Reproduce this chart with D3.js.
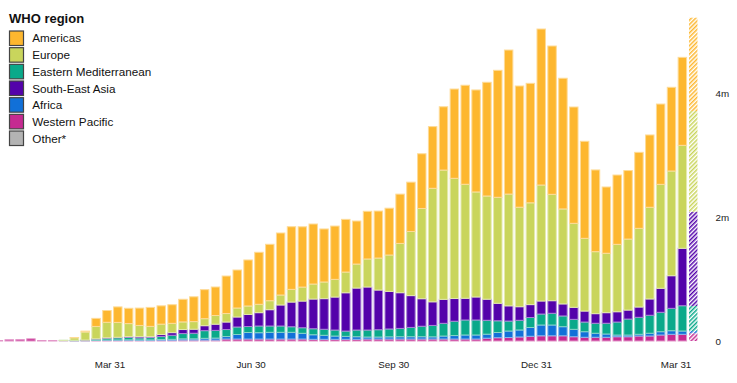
<!DOCTYPE html>
<html><head><meta charset="utf-8">
<script src="https://cdn.jsdelivr.net/npm/d3@7"></script>
<style>body{margin:0;background:#fff;} svg{display:block;font-family:Arial,"Liberation Sans",sans-serif;}</style>
</head><body><svg id="c" width="737" height="383"></svg>
<script>
// Week start dates (one bar per week)
const weeks = [
"2020-01-16","2020-01-23","2020-01-30","2020-02-06","2020-02-13","2020-02-20","2020-02-27",
"2020-03-05","2020-03-12","2020-03-19","2020-03-26","2020-04-02","2020-04-09","2020-04-16","2020-04-23","2020-04-30",
"2020-05-07","2020-05-14","2020-05-21","2020-05-28","2020-06-04","2020-06-11","2020-06-18","2020-06-25",
"2020-07-02","2020-07-09","2020-07-16","2020-07-23","2020-07-30","2020-08-06","2020-08-13","2020-08-20","2020-08-27",
"2020-09-03","2020-09-10","2020-09-17","2020-09-24","2020-10-01","2020-10-08","2020-10-15","2020-10-22","2020-10-29",
"2020-11-05","2020-11-12","2020-11-19","2020-11-26","2020-12-03","2020-12-10","2020-12-17","2020-12-24","2020-12-31",
"2021-01-07","2021-01-14","2021-01-21","2021-01-28","2021-02-04","2021-02-11","2021-02-18","2021-02-25",
"2021-03-04","2021-03-11","2021-03-18","2021-03-25","2021-04-01","2021-04-08"];
const incompleteWeek = "2021-04-08";

const regions = ["Americas","Europe","Eastern Mediterranean","South-East Asia","Africa","Western Pacific","Other*"];
const colors  = ["#fdb72f","#c9d55c","#0aa98a","#5302aa","#1170d8","#c52a91","#b3b3b3"];
const stackOrder = ["Other*","Western Pacific","Africa","Eastern Mediterranean","South-East Asia","Europe","Americas"];

// weekly new cases, thousands
const americas = [0, 0,0,0,0,0,0,4,15,130,190, 250,247,280,306,295,300,365,400,468,460, 605,613,742,839,910,1000,1010,972,968,855, 860,850,694,769,758,755,795,795,882,995, 1021,1440,1597,1645,1834,2048,2323,1955,1927,2516, 2392,2108,1876,1565,1318,1069,1118,1105,1226,1166, 1295,1350,1419,1505];
const europe = [0, 0,0,0,0,0,2,40,130,200,250, 240,210,180,165,168,150,123,123,113,140, 137,145,137,135,145,161,205,226,242,269, 285,334,387,452,516,587,795,1035,1456,1831, 2085,1939,1839,1694,1665,1710,1803,1605,1642,1871, 1716,1532,1355,1173,1000,958,1087,1145,1269,1479, 1677,1689,1661,1624];
const easternMediterranean = [0, 0,0,0,0,0,3,6,8,20,30, 35,40,33,37,48,65,85,90,124,124, 113,121,97,108,102,102,90,90,97,97, 97,85,108,113,118,127,134,150,169,184, 205,231,242,242,224,189,161,156,161,177, 189,173,161,156,161,173,210,258,274,290, 313,361,408,403];
const southEastAsia = [0, 0,0,0,0,0,0,0,1,3,6, 8,12,20,16,32,43,65,65,80,100, 121,161,194,215,263,339,398,430,479,494, 532,618,677,694,640,606,576,513,444,381, 387,366,350,371,340,282,245,219,208,210, 203,194,194,177,155,171,166,145,166,263, 387,526,926,1521];
const africa = [0, 0,0,0,0,0,0,1,1,2,4, 5,7,8,8,12,15,20,20,28,32, 40,73,105,102,108,108,108,92,74,65, 53,48,42,32,32,35,37,37,37,35, 48,56,65,65,65,84,105,113,142,174, 174,147,119,90,65,53,27,27,27,44, 53,58,53,37];
const westernPacific = [8, 20,22,35,8,6,3,3,5,10,12, 12,12,10,10,12,12,15,15,15,15, 32,32,32,32,32,32,32,32,27,27, 27,27,27,32,32,32,32,32,32,32, 32,32,32,32,45,53,56,65,76,84, 84,84,69,60,60,60,69,69,81,81, 97,108,108,124];
const other = [0, 0,0,0,0,0,4,2,0,0,0, 0,0,0,0,0,0,0,0,0,0, 0,0,0,0,0,0,0,0,0,0, 0,0,0,0,0,0,0,0,0,0, 0,0,0,0,0,0,0,0,0,0, 0,0,0,0,0,0,0,0,0,0, 0,0,0,0];

const yTicks = [0, 2000, 4000];
const yTickLabels = ["0","2m","4m"];
const xTicks = ["2020-03-31","2020-06-30","2020-09-30","2020-12-31","2021-03-31"];

const seriesValues = {
  "Americas": americas, "Europe": europe, "Eastern Mediterranean": easternMediterranean,
  "South-East Asia": southEastAsia, "Africa": africa, "Western Pacific": westernPacific, "Other*": other
};
const colorOf = d3.scaleOrdinal().domain(regions).range(colors);

const parse = d3.timeParse("%Y-%m-%d");
const dates = weeks.map(parse);
const table = dates.map((d, i) => {
  const row = {date: d, week: weeks[i]};
  regions.forEach(r => row[r] = seriesValues[r][i]);
  return row;
});

const svg = d3.select("#c");
const x = d3.scaleTime()
  .domain([dates[0], d3.timeDay.offset(dates[dates.length - 1], 7)])
  .range([-6.86, -6.86 + dates.length * 10.857]);
const y = d3.scaleLinear().domain([0, 5200]).range([341, 341 - 5.2 * 62]);

// hatch patterns for incomplete week
const defs = svg.append("defs");
regions.forEach((r, k) => {
  const p = defs.append("pattern").attr("id", "hatch" + k)
    .attr("patternUnits", "userSpaceOnUse").attr("width", 3).attr("height", 3)
    .attr("patternTransform", "rotate(45)");
  p.append("rect").attr("width", 3).attr("height", 3).attr("fill", "#fff");
  p.append("rect").attr("x", 0).attr("y", 0).attr("width", 1.5).attr("height", 3).attr("fill", colorOf(r));
});

const stack = d3.stack().keys(stackOrder);
const layers = stack(table);
const lighten = c => d3.interpolateRgb(c, "#ffffff")(0.5);

const gBars = svg.append("g");
layers.forEach(layer => {
  const key = layer.key;
  const k = regions.indexOf(key);
  gBars.append("g").selectAll("rect")
    .data(layer.filter(d => d[1] - d[0] > 0))
    .join("rect")
    .attr("x", d => x(d.data.date) + 1)
    .attr("width", d => x(d3.timeDay.offset(d.data.date, 7)) - x(d.data.date) - 2.4)
    .attr("y", d => y(d[1]))
    .attr("height", d => y(d[0]) - y(d[1]))
    .attr("fill", d => d.data.week === incompleteWeek ? `url(#hatch${k})` : colorOf(key))
    .attr("stroke", d => d.data.week === incompleteWeek ? "none" : lighten(colorOf(key)))
    .attr("stroke-width", 1);
});

// x axis
const xAxis = svg.append("g").attr("transform", "translate(0,358)")
  .call(d3.axisBottom(x).tickValues(xTicks.map(parse)).tickFormat(d3.timeFormat("%b %d")).tickSize(0).tickPadding(3));
xAxis.select(".domain").remove();
xAxis.selectAll("text").attr("font-size", "9.8px").attr("font-family", "Arial, 'Liberation Sans', sans-serif").attr("fill", "#222");

// y axis
const yAxis = svg.append("g").attr("transform", "translate(715.5,0)")
  .call(d3.axisRight(y).tickValues(yTicks).tickFormat((d, i) => yTickLabels[i]).tickSize(0).tickPadding(0));
yAxis.select(".domain").remove();
yAxis.selectAll("text").attr("font-size", "9.8px").attr("font-family", "Arial, 'Liberation Sans', sans-serif").attr("fill", "#222");

// legend
const lg = svg.append("g");
lg.append("text").attr("x", 9).attr("y", 22.7).attr("font-size", "13px").attr("font-weight", "bold").attr("fill", "#111").text("WHO region");
regions.forEach((r, i) => {
  const yy = 31 + i * 16.67;
  lg.append("rect").attr("x", 9.5).attr("y", yy).attr("width", 14).attr("height", 14.5)
    .attr("fill", colorOf(r)).attr("stroke", "#444").attr("stroke-width", 1.2);
  lg.append("text").attr("x", 32.3).attr("y", yy + 7.4).attr("dy", "0.35em")
    .attr("font-size", "11.7px").attr("fill", "#111").text(r);
});
</script></body></html>
